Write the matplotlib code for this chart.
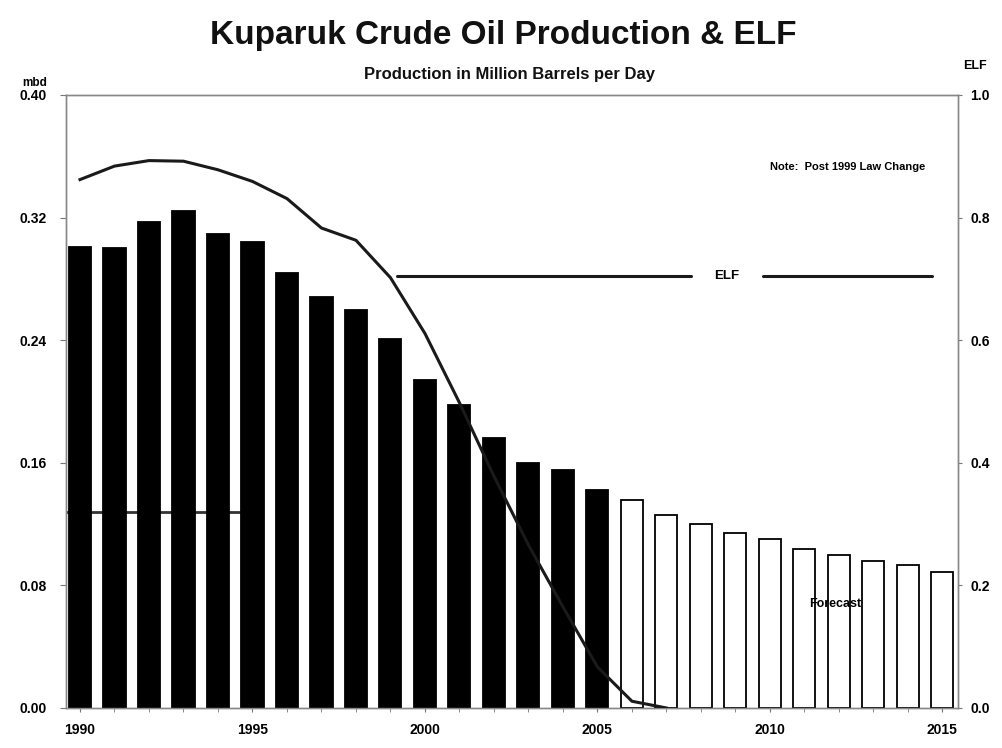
import matplotlib
matplotlib.use("Agg")
import matplotlib.pyplot as plt
import numpy as np

plt.rcParams['font.family'] = ['Liberation Sans', 'DejaVu Sans']

# ---- data ----
years = list(range(1990, 2016))
production = [0.301, 0.300, 0.317, 0.324, 0.309, 0.304, 0.284, 0.268, 0.260, 0.241,
              0.214, 0.198, 0.176, 0.160, 0.155, 0.142,
              0.136, 0.126, 0.120, 0.114, 0.110, 0.104, 0.100, 0.096, 0.093, 0.089]
actual_last_year = 2005

elf_years = [1990, 1991, 1992, 1993, 1994, 1995, 1996, 1997, 1998, 1999,
             2000, 2001, 2002, 2003, 2004, 2005, 2006, 2007]
elf_values = [0.862, 0.884, 0.893, 0.892, 0.878, 0.859, 0.831, 0.783, 0.763, 0.702,
              0.611, 0.498, 0.378, 0.266, 0.165, 0.067, 0.011, 0.0]

elf_ref_level = 0.705
elf_ref_start, elf_ref_gap_start, elf_ref_gap_end, elf_ref_end = 1999.2, 2007.7, 2009.8, 2014.7

left_ticks = [0.00, 0.08, 0.16, 0.24, 0.32, 0.40]
right_ticks = [0.0, 0.2, 0.4, 0.6, 0.8, 1.0]
x_major = [1990, 1995, 2000, 2005, 2010, 2015]

# ---- figure ----
fig = plt.figure(figsize=(10.03, 7.48), dpi=100)
ax = fig.add_axes([0.0658, 0.0535, 0.8892, 0.8195])
ax2 = ax.twinx()

colors = ['black' if y <= actual_last_year else 'white' for y in years]
ax.bar(years, production, width=0.64, color=colors, edgecolor='black', linewidth=1.3, zorder=3)

# faint legacy line behind the early bars
ax.plot([1989.6, 1994.6], [0.128, 0.128], color='#333333', lw=2, zorder=1)

ax.set_xlim(1989.594, 2015.449)
ax.set_ylim(0, 0.40)
ax.set_yticks(left_ticks)
ax.set_yticklabels([f"{v:.2f}" for v in left_ticks], fontsize=10, fontweight='bold')
ax.set_xticks(x_major)
ax.set_xticklabels([str(y) for y in x_major], fontsize=10, fontweight='bold')
ax.set_xticks(years, minor=True)
ax.tick_params(axis='x', which='both', length=3, color='#777777', pad=8)
ax.tick_params(axis='y', length=4, color='#777777', pad=10)

for sp in ['left', 'right', 'top', 'bottom']:
    ax.spines[sp].set_color('#888888')
    ax.spines[sp].set_linewidth(1.0)
    ax2.spines[sp].set_color('#888888')
    ax2.spines[sp].set_linewidth(1.0)

ax2.plot(elf_years, elf_values, color='#1a1a1a', lw=2.2, zorder=5)
ax2.plot([elf_ref_start, elf_ref_gap_start], [elf_ref_level, elf_ref_level],
         color='#1a1a1a', lw=2.2, solid_capstyle='round')
ax2.plot([elf_ref_gap_end, elf_ref_end], [elf_ref_level, elf_ref_level],
         color='#1a1a1a', lw=2.2, solid_capstyle='round')
ax2.text((elf_ref_gap_start + elf_ref_gap_end) / 2, elf_ref_level, 'ELF',
         ha='center', va='center', fontsize=9.5, fontweight='bold')
ax2.set_ylim(0, 1.0)
ax2.set_yticks(right_ticks)
ax2.set_yticklabels([f"{v:.1f}" for v in right_ticks], fontsize=10, fontweight='bold')
ax2.tick_params(axis='y', length=3, color='#777777', pad=6)

ax.set_zorder(ax2.get_zorder() - 1)
ax.patch.set_visible(True)
ax2.patch.set_visible(False)

# ---- text ----
fig.text(0.502, 0.953, 'Kuparuk Crude Oil Production & ELF', ha='center', va='center',
         fontsize=24, fontweight='bold', color='#111111')
fig.text(0.508, 0.901, 'Production in Million Barrels per Day', ha='center', va='center',
         fontsize=12, fontweight='bold', color='#111111')
fig.text(0.035, 0.889, 'mbd', ha='center', va='center', fontsize=8.5, fontweight='bold')
fig.text(0.972, 0.912, 'ELF', ha='center', va='center', fontsize=9, fontweight='bold')
fig.text(0.845, 0.777, 'Note:  Post 1999 Law Change', ha='center', va='center',
         fontsize=8, fontweight='bold')
ax.text(2011.9, 0.068, 'Forecast', ha='center', va='center', fontsize=9,
        fontweight='bold', zorder=6)

fig.savefig('out.png', dpi=100)
